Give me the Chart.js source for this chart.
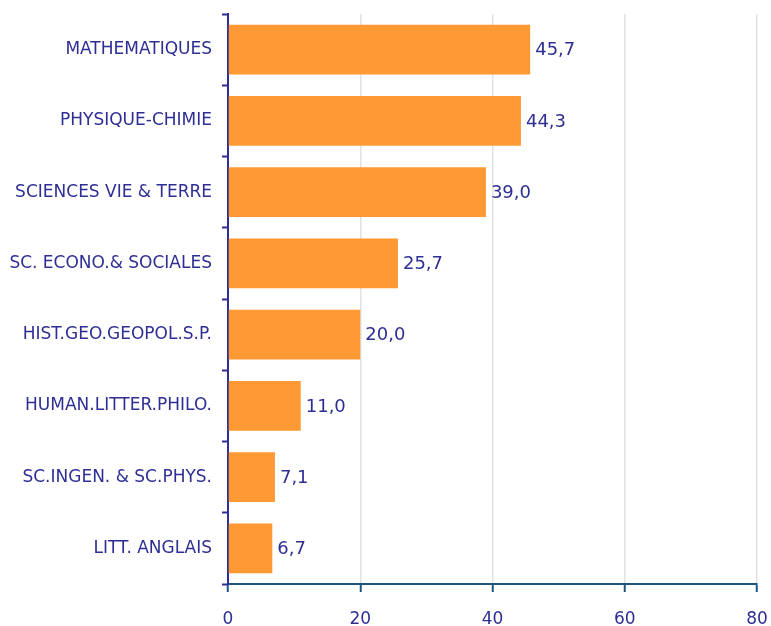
<!DOCTYPE html>
<html>
<head>
<meta charset="utf-8">
<script src="https://cdn.jsdelivr.net/npm/chart.js@4"></script>
<style>
  html, body { margin: 0; padding: 0; background: #fff; }
  #wrap { width: 771px; height: 626px; }
</style>
</head>
<body>
<div id="wrap"><canvas id="myChart" width="771" height="626"></canvas></div>
<script>
const matieres = ['MATHEMATIQUES', 'PHYSIQUE-CHIMIE', 'SCIENCES VIE & TERRE', 'SC. ECONO.& SOCIALES',
    'HIST.GEO.GEOPOL.S.P.', 'HUMAN.LITTER.PHILO.', 'SC.INGEN. & SC.PHYS.', 'LITT. ANGLAIS'];
const pourcentages = [45.7, 44.3, 39.0, 25.7, 20.0, 11.0, 7.1, 6.7];
const xTicks = [0, 20, 40, 60, 80];

const navy = '#2e2e94';
const fontFam = '"DejaVu Sans", Verdana, sans-serif';

// etiquettes de valeur au bout des barres
const valeurs = {
    id: 'valeurs',
    afterDatasetsDraw(chart) {
        const ctx = chart.ctx;
        const meta = chart.getDatasetMeta(0);
        ctx.save();
        ctx.font = '18px ' + fontFam;
        ctx.fillStyle = navy;
        ctx.textBaseline = 'middle';
        ctx.textAlign = 'left';
        meta.data.forEach((bar, i) => {
            const txt = pourcentages[i].toFixed(1).replace('.', ',');
            ctx.fillText(txt, bar.x + 5, bar.y + 1);
        });
        ctx.restore();
    }
};

new Chart(document.getElementById('myChart'), {
    type: 'bar',
    data: {
        labels: matieres,
        datasets: [{
            data: pourcentages,
            backgroundColor: '#ff9933',
            borderWidth: 0,
            barPercentage: 0.70,
            categoryPercentage: 1
        }]
    },
    options: {
        indexAxis: 'y',
        responsive: false,
        animation: false,
        layout: { padding: { top: 14, right: 14, left: 0, bottom: 0 } },
        plugins: { legend: { display: false }, tooltip: { enabled: false } },
        scales: {
            x: {
                min: 0, max: 80,
                afterBuildTicks: s => { s.ticks = xTicks.map(v => ({ value: v })); },
                afterFit: s => { s.height = 42; s.paddingLeft = 0; s.paddingRight = 0; },
                border: { color: '#1d5580', width: 2 },
                grid: { color: '#e2e2e2', lineWidth: 1.5, tickLength: 8, tickColor: '#1d5580', tickWidth: 2 },
                ticks: { color: navy, font: { family: fontFam, size: 17 }, padding: 17, maxRotation: 0 }
            },
            y: {
                afterFit: s => { s.width = 228; s.paddingTop = 0; s.paddingBottom = 0; },
                border: { color: navy, width: 2 },
                grid: { offset: true, drawOnChartArea: false, tickLength: 6, tickColor: navy, tickWidth: 2 },
                ticks: { color: navy, font: { family: fontFam, size: 17 }, padding: 10 }
            }
        }
    },
    plugins: [valeurs]
});
</script>
</body>
</html>
